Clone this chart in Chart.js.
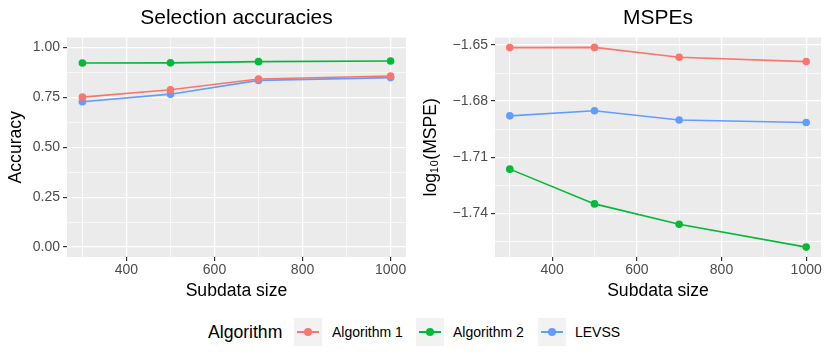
<!DOCTYPE html>
<html>
<head>
<meta charset="utf-8">
<script src="https://cdn.jsdelivr.net/npm/chart.js@4.4.1/dist/chart.umd.min.js"></script>
<style>
  body { margin: 0; background: #fff; font-family: "Liberation Sans", Arial, sans-serif; }
  #wrap { position: relative; width: 830px; height: 356px; }
  .panel { position: absolute; top: 0; width: 415px; height: 302px; }
  #legend { position: absolute; left: 0; top: 318px; width: 830px; height: 28px; }
  .lg-title { position: absolute; left: 208px; top: 4px; font-size: 17.6px; color: #000; }
  .key { position: absolute; top: 0; width: 28px; height: 28px; background: #f2f2f2; }
  .key .ln { position: absolute; left: 3px; right: 3px; top: 13px; height: 2px; }
  .key .pt { position: absolute; left: 10px; top: 10px; width: 8px; height: 8px; border-radius: 50%; }
  .lab { position: absolute; top: 6px; font-size: 14px; color: #000; }
</style>
</head>
<body>
<div id="wrap">
  <div class="panel" style="left:0"><canvas id="accChart" width="415" height="302"></canvas></div>
  <div class="panel" style="left:415px"><canvas id="mspeChart" width="415" height="302"></canvas></div>
  <div id="legend"></div>
</div>
<script>
// data
var subdataSizes = [300, 500, 700, 1000];
var seriesNames = ['Algorithm 1', 'Algorithm 2', 'LEVSS'];
var seriesColors = ['#F8766D', '#00BA38', '#619CFF'];

var accAlg1 = [0.751, 0.788, 0.842, 0.857];
var accAlg2 = [0.922, 0.923, 0.929, 0.932];
var accLevss = [0.728, 0.766, 0.835, 0.849];

var mspeAlg1 = [-1.6514, -1.6513, -1.6566, -1.6589];
var mspeAlg2 = [-1.7164, -1.7350, -1.7459, -1.7581];
var mspeLevss = [-1.6879, -1.6852, -1.6901, -1.6915];

var sizeTicks = [400, 600, 800, 1000];
var accTicks = [0, 0.25, 0.5, 0.75, 1];
var mspeTicks = [-1.74, -1.71, -1.68, -1.65];

Chart.defaults.font.family = '"Liberation Sans", Arial, sans-serif';
Chart.defaults.color = '#4d4d4d';

// major + minor (midpoint) grid positions, ggplot style
function withMinor(major, min, max) {
    var step = major[1] - major[0];
    var all = [];
    for (var i = -1; i < major.length; i++) {
        var m = major[0] + step * i;
        if (i >= 0) all.push({v: major[i], major: true});
        all.push({v: m + step / 2, major: false});
    }
    all.push({v: major[0] - step / 2, major: false});
    return all.filter(function (t) { return t.v >= min && t.v <= max; })
              .sort(function (a, b) { return a.v - b.v; });
}

var panelBg = {
    id: 'panelBg',
    beforeDraw: function (chart) {
        var a = chart.chartArea, c = chart.ctx;
        c.save();
        c.fillStyle = '#ebebeb';
        c.fillRect(a.left, a.top, a.right - a.left, a.bottom - a.top);
        c.restore();
    }
};

function makeDatasets(values) {
    return values.map(function (vals, i) {
        return {
            label: seriesNames[i],
            data: subdataSizes.map(function (x, j) { return {x: x, y: vals[j]}; }),
            borderColor: seriesColors[i],
            backgroundColor: seriesColors[i],
            borderWidth: 1.6,
            pointRadius: 3.8,
            pointHoverRadius: 3.8,
            pointBorderWidth: 0,
            tension: 0
        };
    });
}

function axisGrid(list) {
    return {
        color: '#ffffff',
        lineWidth: function (c) { return list[c.index] && list[c.index].major ? 1.2 : 0.6; },
        tickColor: function (c) { return list[c.index] && list[c.index].major ? '#333333' : 'rgba(0,0,0,0)'; },
        tickLength: 4,
        drawTicks: true
    };
}

function renderPanel(ctx, title, yTitle, values, yMajor, yMin, yMax, yWidth, fmt) {
    var xList = withMinor(sizeTicks, 265, 1035);
    var yList = withMinor(yMajor, yMin, yMax);
    return new Chart(ctx, {
        type: 'line',
        data: { datasets: makeDatasets(values) },
        options: {
            responsive: false,
            animation: false,
            layout: { padding: { left: 0, right: 9, top: 0, bottom: 0 } },
            plugins: {
                legend: { display: false },
                tooltip: { enabled: false },
                title: {
                    display: true, text: title, color: '#000', fullSize: false,
                    font: { size: 21, weight: 'normal' },
                    padding: { top: 5.4, bottom: 6.9 }
                }
            },
            scales: {
                x: {
                    type: 'linear', min: 265, max: 1035,
                    border: { display: false },
                    grid: axisGrid(xList),
                    afterBuildTicks: function (s) { s.ticks = xList.map(function (t) { return {value: t.v}; }); },
                    afterFit: function (s) { s.height = 45; },
                    ticks: {
                        autoSkip: false, maxRotation: 0, padding: 1,
                        font: { size: 14 }, color: '#4d4d4d',
                        callback: function (v, i) { return xList[i].major ? String(v) : ''; }
                    },
                    title: { display: true, text: 'Subdata size', color: '#000', font: { size: 17.6 }, padding: { top: 0, bottom: 0 } }
                },
                y: {
                    type: 'linear', min: yMin, max: yMax,
                    border: { display: false },
                    grid: axisGrid(yList),
                    afterBuildTicks: function (s) { s.ticks = yList.map(function (t) { return {value: t.v}; }); },
                    afterFit: function (s) { s.width = yWidth; },
                    ticks: {
                        autoSkip: false, padding: 3,
                        font: { size: 14 }, color: '#4d4d4d',
                        callback: function (v, i) { return yList[i].major ? fmt(v) : ''; }
                    },
                    title: { display: true, text: yTitle, color: '#000', font: { size: 17.6 }, padding: { top: 6, bottom: 0 } }
                }
            }
        },
        plugins: [panelBg]
    });
}

renderPanel(document.getElementById('accChart').getContext('2d'),
    'Selection accuracies', 'Accuracy', [accAlg1, accAlg2, accLevss],
    accTicks, -0.05, 1.05, 67,
    function (v) { return v.toFixed(2); });

renderPanel(document.getElementById('mspeChart').getContext('2d'),
    'MSPEs', 'log\u2081\u2080(MSPE)', [mspeAlg1, mspeAlg2, mspeLevss],
    mspeTicks, -1.7634, -1.6460, 80,
    function (v) { return (v < 0 ? '\u2212' : '') + Math.abs(v).toFixed(2); });

// shared legend
var legend = document.getElementById('legend');
var keyLefts = [294, 416, 538];
var labLefts = [332, 453, 575];
var html = '<div class="lg-title">Algorithm</div>';
seriesNames.forEach(function (name, i) {
    html += '<div class="key" style="left:' + keyLefts[i] + 'px"><div class="ln" style="background:' + seriesColors[i] +
            '"></div><div class="pt" style="background:' + seriesColors[i] + '"></div></div>' +
            '<div class="lab" style="left:' + labLefts[i] + 'px">' + name + '</div>';
});
legend.innerHTML = html;
</script>
</body>
</html>
